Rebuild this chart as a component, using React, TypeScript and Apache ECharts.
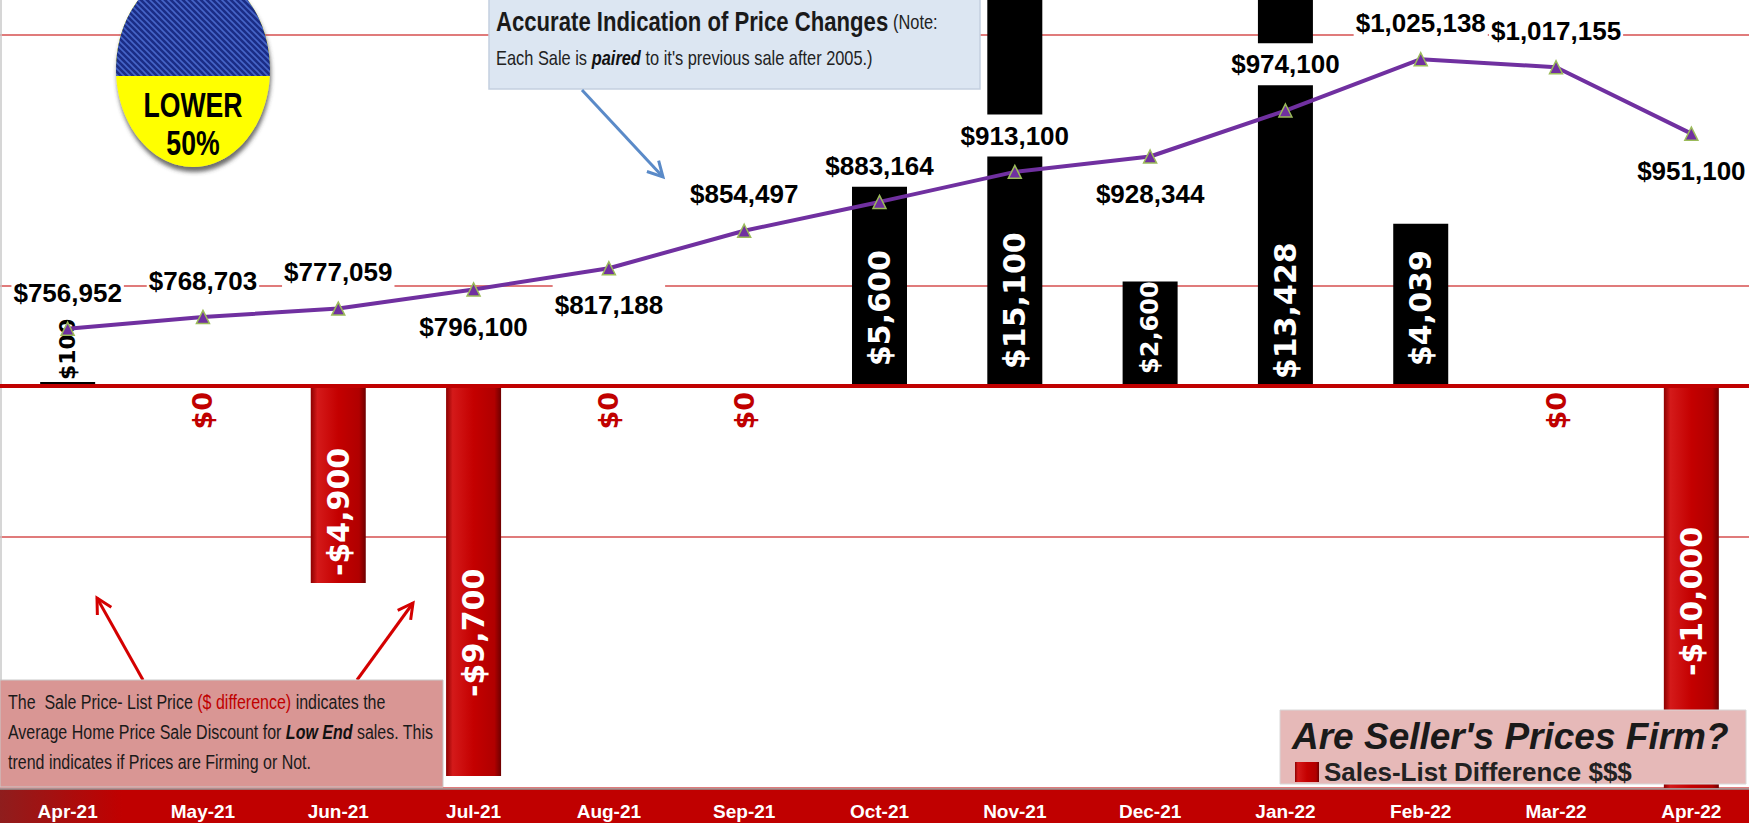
import React, { useEffect, useRef } from "react";
import * as echarts from "echarts";

// ---------- data ----------
const months = ["Apr-21", "May-21", "Jun-21", "Jul-21", "Aug-21", "Sep-21", "Oct-21", "Nov-21", "Dec-21", "Jan-22", "Feb-22", "Mar-22", "Apr-22"];
const avgSalePrice = [756952, 768703, 777059, 796100, 817188, 854497, 883164, 913100, 928344, 974100, 1025138, 1017155, 951100];
const saleListDiff = [100, 0, -4900, -9700, 0, 0, 5600, 15100, 2600, 13428, 4039, 0, -10000];

// ---------- label layout (style, not data) ----------
const priceLabelSide = ["top", "top", "top", "bottom", "bottom", "top", "top", "top", "bottom", "top", "top", "top", "bottom"];
const priceLabelDistance = [8, 8, 8, 9, 9, 8, 8, 8, 9, 18, 8, 8, 9];
const diffLabelDistance = [6, 6, 7, 79, 6, 6, 20, 17, 12, 7, 20, 6, 112];
const diffLabelSize = [22, 27, 30, 30, 27, 27, 30, 30, 24, 30, 30, 27, 30];

const ARIAL = "'Liberation Sans', Arial, sans-serif";
const BARFONT = "'DejaVu Sans', sans-serif";
const NX = 0.82; // horizontal squeeze used for narrow-looking annotation text

const fmt = (v: number) => (v < 0 ? "-" : "") + "$" + Math.abs(v).toLocaleString("en-US");

function arrowHead(x1: number, y1: number, x2: number, y2: number, L = 15, W = 8) {
  const dx = x2 - x1, dy = y2 - y1;
  const len = Math.sqrt(dx * dx + dy * dy);
  const ux = dx / len, uy = dy / len;
  const bx = x2 - ux * L, by = y2 - uy * L;
  return [
    [bx - uy * W, by + ux * W],
    [x2, y2],
    [bx + uy * W, by - ux * W],
  ];
}

export default function App() {
  const ref = useRef<HTMLDivElement>(null);

  useEffect(() => {
    if (!ref.current) return;
    echarts.graphic.registerShape(
      "topHalfEllipse",
      echarts.graphic.extendPath("M116.2 76 A77 98 0 1 1 269.8 76 Z", {})
    );

    // stripe pattern for the blue half
    const cv = document.createElement("canvas");
    cv.width = 6; cv.height = 6;
    const cx = cv.getContext("2d")!;
    cx.fillStyle = "#1b2d86"; cx.fillRect(0, 0, 6, 6);
    cx.strokeStyle = "#4665c8"; cx.lineWidth = 1.6;
    cx.beginPath();
    cx.moveTo(-1, -1); cx.lineTo(7, 7);
    cx.moveTo(-4, 2); cx.lineTo(4, 10);
    cx.moveTo(2, -4); cx.lineTo(10, 4);
    cx.stroke();

    const chart = echarts.init(ref.current, undefined, { renderer: "svg" });

    const redBar = new echarts.graphic.LinearGradient(0, 0, 1, 0, [
      { offset: 0, color: "#8c0000" },
      { offset: 0.12, color: "#d41a1a" },
      { offset: 0.5, color: "#c40000" },
      { offset: 0.88, color: "#b00000" },
      { offset: 1, color: "#6e0000" },
    ]);

    const barData = saleListDiff.map((v, i) => {
      const item: any = { value: v, label: { distance: diffLabelDistance[i], fontSize: diffLabelSize[i] } };
      if (v > 0) item.itemStyle = { color: "#000000" };
      if (v === 0) {
        item.label = { position: "bottom", distance: 6, align: "right", color: "#c00000", fontSize: diffLabelSize[i] };
      } else if (v > 0 && v < 1000) {
        item.label = { distance: diffLabelDistance[i], color: "#000", fontSize: diffLabelSize[i] };
      }
      return item;
    });

    const lineData = avgSalePrice.map((v, i) => ({
      value: v,
      label: { position: priceLabelSide[i], distance: priceLabelDistance[i] },
    }));

    const a1 = { x1: 582, y1: 90, x2: 663, y2: 177 };
    const a2 = { x1: 143, y1: 680, x2: 97, y2: 598 };
    const a3 = { x1: 357, y1: 680, x2: 413, y2: 603 };

    chart.setOption({
      animation: false,
      backgroundColor: "#ffffff",
      grid: { left: 0, right: -10, top: -217, bottom: 35, containLabel: false, outerBoundsMode: "none" },
      legend: {
        data: ["Sales-List Difference $$$"],
        left: 1290,
        top: 754,
        icon: "rect",
        itemWidth: 24,
        itemHeight: 20,
        z: 20,
        textStyle: { fontFamily: ARIAL, fontWeight: "bold", fontSize: 26, color: "#222" },
      },
      xAxis: {
        type: "category",
        data: months,
        boundaryGap: true,
        axisLine: { show: false },
        axisTick: { show: false },
        splitLine: { show: false },
        z: 5,
        axisLabel: { color: "#ffffff", fontFamily: ARIAL, fontWeight: "bold", fontSize: 19, margin: 14 },
      },
      yAxis: [
        {
          type: "value",
          min: 300000,
          max: 1300000,
          interval: 250000,
          axisLabel: { show: false },
          axisLine: { show: false },
          axisTick: { show: false },
          splitLine: { show: true, lineStyle: { color: "#e07b7b", width: 2 } },
        },
        {
          type: "value",
          min: -10000,
          max: 15000,
          interval: 5000,
          axisLabel: { show: false },
          axisLine: { show: false },
          axisTick: { show: false },
          splitLine: { show: false },
        },
      ],
      series: [
        {
          name: "Sales-List Difference $$$",
          type: "bar",
          yAxisIndex: 1,
          barWidth: 55,
          z: 2,
          itemStyle: { color: redBar },
          data: barData,
          label: {
            show: true,
            position: "insideBottom",
            rotate: 90,
            align: "left",
            verticalAlign: "middle",
            overflow: "none",
            color: "#ffffff",
            fontFamily: BARFONT,
            fontWeight: "bold",
            fontSize: 30,
            formatter: (p: any) => fmt(p.value),
          },
          markLine: {
            silent: true,
            symbol: "none",
            label: { show: false },
            lineStyle: { color: "#c00000", width: 4, type: "solid" },
            data: [{ yAxis: 0 }],
          },
        },
        {
          name: "Average Sale Price",
          type: "line",
          yAxisIndex: 0,
          z: 5,
          data: lineData,
          symbol: "triangle",
          symbolSize: 13,
          lineStyle: { color: "#7030a0", width: 4 },
          itemStyle: { color: "#7030a0", borderColor: "#9bbb59", borderWidth: 1.5 },
          label: {
            show: true,
            distance: 8,
            fontFamily: ARIAL,
            fontWeight: "bold",
            fontSize: 26,
            color: "#000",
            backgroundColor: "#ffffff",
            padding: [8, 2],
            formatter: (p: any) => fmt(p.value),
          },
        },
      ],
      graphic: [
        // bottom red band behind axis labels
        {
          type: "rect", z: 1, silent: true,
          shape: { x: 0, y: 789, width: 1749, height: 34 },
          style: {
            fill: new echarts.graphic.LinearGradient(0, 0, 1, 0, [
              { offset: 0, color: "#8f1d1d" },
              { offset: 0.07, color: "#c00000" },
              { offset: 1, color: "#c00000" },
            ]),
          },
        },
        { type: "line", z: 1, silent: true, shape: { x1: 0, y1: 789, x2: 1749, y2: 789 }, style: { stroke: "#9a9a9a", lineWidth: 1.5 } },
        { type: "line", z: 1, silent: true, shape: { x1: 1, y1: 0, x2: 1, y2: 680 }, style: { stroke: "#c8c8c8", lineWidth: 1.5 } },
        // LOWER 50% badge
        {
          type: "ellipse", z: 15, silent: true,
          shape: { cx: 193, cy: 69, rx: 77, ry: 98 },
          style: { fill: "#ffff00", shadowBlur: 4, shadowOffsetY: 5, shadowOffsetX: 1, shadowColor: "rgba(60,60,60,0.75)" },
        },
        {
          type: "topHalfEllipse", z: 16, silent: true,
          style: { fill: { image: cv, repeat: "repeat", imageWidth: 6, imageHeight: 6 } as any },
        },
        {
          type: "text", z: 17, silent: true, x: 193, y: 104, scaleX: 0.74,
          style: { text: "LOWER", fill: "#000", font: `bold 36px ${ARIAL}`, align: "center", verticalAlign: "middle" },
        },
        {
          type: "text", z: 17, silent: true, x: 193, y: 142, scaleX: 0.74,
          style: { text: "50%", fill: "#000", font: `bold 36px ${ARIAL}`, align: "center", verticalAlign: "middle" },
        },
        // note box (top)
        {
          type: "rect", z: 15, silent: true,
          shape: { x: 489, y: -3, width: 491, height: 92 },
          style: { fill: "#dce6f2", stroke: "#c3d0e0", lineWidth: 1.5 },
        },
        {
          type: "text", z: 16, silent: true, x: 496, y: 4, scaleX: NX,
          style: {
            text: "{t|Accurate Indication of Price Changes}{s| (Note:}\n{s|Each Sale is }{bi|paired}{s| to it's previous sale after 2005.)}",
            verticalAlign: "top",
            align: "left",
            rich: {
              t: { fontFamily: ARIAL, fontWeight: "bold", fontSize: 27, fill: "#1a1a1a", lineHeight: 36 },
              s: { fontFamily: ARIAL, fontSize: 20, fill: "#222", lineHeight: 36 },
              bi: { fontFamily: ARIAL, fontSize: 20, fontWeight: "bold", fontStyle: "italic", fill: "#111", lineHeight: 36 },
            },
          },
        },
        // blue arrow
        { type: "line", z: 15, silent: true, shape: { x1: a1.x1, y1: a1.y1, x2: a1.x2, y2: a1.y2 }, style: { stroke: "#5a8ac8", lineWidth: 3 } },
        { type: "polyline", z: 15, silent: true, shape: { points: arrowHead(a1.x1, a1.y1, a1.x2, a1.y2) }, style: { stroke: "#5a8ac8", lineWidth: 3, fill: "none" } },
        // red arrows
        { type: "line", z: 15, silent: true, shape: { x1: a2.x1, y1: a2.y1, x2: a2.x2, y2: a2.y2 }, style: { stroke: "#d40000", lineWidth: 3 } },
        { type: "polyline", z: 15, silent: true, shape: { points: arrowHead(a2.x1, a2.y1, a2.x2, a2.y2) }, style: { stroke: "#d40000", lineWidth: 3, fill: "none" } },
        { type: "line", z: 15, silent: true, shape: { x1: a3.x1, y1: a3.y1, x2: a3.x2, y2: a3.y2 }, style: { stroke: "#d40000", lineWidth: 3 } },
        { type: "polyline", z: 15, silent: true, shape: { points: arrowHead(a3.x1, a3.y1, a3.x2, a3.y2) }, style: { stroke: "#d40000", lineWidth: 3, fill: "none" } },
        // explanation box (bottom left)
        {
          type: "rect", z: 15, silent: true,
          shape: { x: 0, y: 680, width: 443, height: 107 },
          style: { fill: "#d99694", stroke: "#c9c9c9", lineWidth: 1 },
        },
        {
          type: "text", z: 16, silent: true, x: 8, y: 687, scaleX: NX,
          style: {
            text: "{n|The  Sale Price- List Price }{r|($ difference)}{n| indicates the}\n{n|Average Home Price Sale Discount for }{bi|Low End}{n| sales. This}\n{n|trend indicates if Prices are Firming or Not.}",
            verticalAlign: "top",
            align: "left",
            rich: {
              n: { fontFamily: ARIAL, fontSize: 19.5, fill: "#1a1a1a", lineHeight: 30 },
              r: { fontFamily: ARIAL, fontSize: 19.5, fill: "#c00000", lineHeight: 30 },
              bi: { fontFamily: ARIAL, fontSize: 19.5, fontWeight: "bold", fontStyle: "italic", fill: "#111", lineHeight: 30 },
            },
          },
        },
        // legend box (bottom right)
        {
          type: "rect", z: 15, silent: true,
          shape: { x: 1280, y: 710, width: 466, height: 74 },
          style: { fill: "#e6b9b8", stroke: "#d8d8d8", lineWidth: 1 },
        },
        {
          type: "text", z: 16, silent: true, x: 1292, y: 736,
          style: { text: "Are Seller's Prices Firm?", fill: "#1a1a1a", font: `italic bold 37px ${ARIAL}`, align: "left", verticalAlign: "middle" },
        },
      ],
    });

    return () => chart.dispose();
  }, []);

  return (
    <div
      ref={ref}
      style={{ position: "fixed", left: 0, top: 0, width: 1749, height: 823, overflow: "hidden" }}
    />
  );
}
